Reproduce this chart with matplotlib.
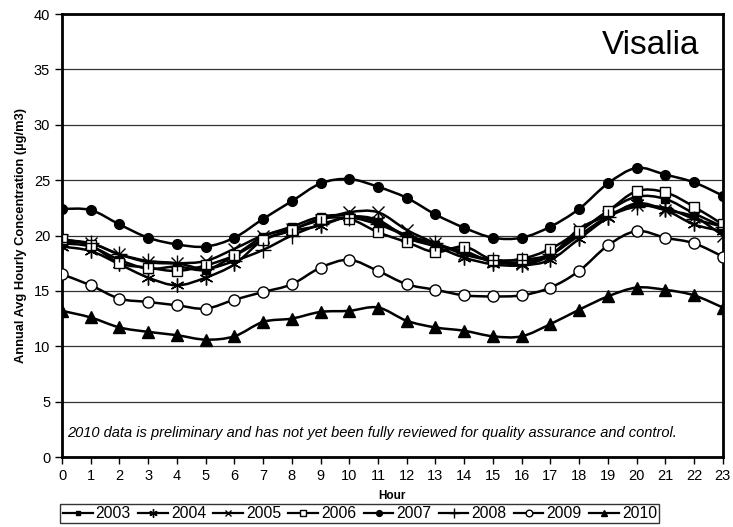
import numpy as np
import matplotlib
matplotlib.use('Agg')
import matplotlib.pyplot as plt
from matplotlib.path import Path
from matplotlib.patches import PathPatch
from matplotlib.lines import Line2D

hours = list(range(24))

y2003 = [19.3, 19.0, 17.8, 17.0, 17.2, 16.9, 18.2, 19.9, 20.8, 21.7, 21.8, 21.2,
         20.0, 19.1, 18.6, 17.6, 17.6, 18.2, 20.3, 22.2, 23.5, 23.3, 22.0, 20.8]
y2004 = [19.0, 18.6, 17.4, 16.2, 15.5, 16.2, 17.4, 19.6, 20.4, 20.9, 21.7, 21.4,
         19.8, 19.0, 18.0, 17.4, 17.3, 17.8, 19.7, 21.6, 22.9, 22.3, 21.0, 20.4]
y2005 = [19.6, 19.3, 18.3, 17.6, 17.5, 17.7, 18.8, 20.0, 20.6, 21.4, 22.1, 22.1,
         20.5, 19.3, 18.3, 17.7, 17.4, 18.2, 20.6, 21.8, 22.8, 22.3, 21.7, 20.0]
y2006 = [19.7, 19.1, 17.5, 17.1, 16.8, 17.3, 18.2, 19.6, 20.5, 21.5, 21.5, 20.3,
         19.4, 18.5, 19.0, 17.8, 17.9, 18.8, 20.4, 22.2, 24.0, 23.9, 22.6, 21.0]
y2007 = [22.4, 22.3, 21.0, 19.8, 19.2, 19.0, 19.8, 21.5, 23.1, 24.7, 25.1, 24.4,
         23.4, 21.9, 20.7, 19.8, 19.8, 20.8, 22.4, 24.7, 26.1, 25.5, 24.8, 23.6]
y2008 = [19.4, 19.3, 18.3, 17.7, 17.5, 17.0, 17.7, 18.7, 20.0, 21.0, 21.6, 21.0,
         20.0, 19.3, 18.4, 17.8, 17.8, 18.3, 20.0, 21.7, 22.6, 22.5, 21.5, 20.8]
y2009 = [16.5, 15.5, 14.3, 14.0, 13.7, 13.4, 14.2, 14.9, 15.6, 17.1, 17.8, 16.8,
         15.6, 15.1, 14.6, 14.5, 14.6, 15.3, 16.8, 19.1, 20.4, 19.8, 19.3, 18.1]
y2010 = [13.2, 12.6, 11.7, 11.3, 11.0, 10.6, 10.9, 12.2, 12.5, 13.1, 13.2, 13.5,
         12.3, 11.7, 11.4, 10.9, 10.9, 12.0, 13.3, 14.5, 15.3, 15.1, 14.6, 13.5]

series = [
    ('2003', y2003, dict(marker='s', mfc='black', ms=6)),
    ('2004', y2004, dict(marker=(6, 2, 0), mfc='none', ms=10, mew=1.0)),
    ('2005', y2005, dict(marker='x', mfc='none', ms=8, mew=1.0)),
    ('2006', y2006, dict(marker='s', mfc='white', ms=7, mew=1.0)),
    ('2007', y2007, dict(marker='o', mfc='black', ms=7)),
    ('2008', y2008, dict(marker='+', mfc='none', ms=12, mew=1.0)),
    ('2009', y2009, dict(marker='o', mfc='white', ms=8, mew=1.0)),
    ('2010', y2010, dict(marker='^', mfc='black', ms=8)),
]


def smooth_path(x, y):
    # excel style smoothed line: cubic bezier between points
    x = np.asarray(x, float)
    y = np.asarray(y, float)
    n = len(x)
    verts = [(x[0], y[0])]
    codes = [Path.MOVETO]
    for i in range(n - 1):
        p0 = np.array([x[max(i - 1, 0)], y[max(i - 1, 0)]])
        p1 = np.array([x[i], y[i]])
        p2 = np.array([x[i + 1], y[i + 1]])
        p3 = np.array([x[min(i + 2, n - 1)], y[min(i + 2, n - 1)]])
        c1 = p1 + (p2 - p0) / 6.0
        c2 = p2 - (p3 - p1) / 6.0
        verts += [tuple(c1), tuple(c2), tuple(p2)]
        codes += [Path.CURVE4] * 3
    return Path(verts, codes)


plt.rcParams['font.family'] = ['Liberation Sans', 'DejaVu Sans']

fig = plt.figure(figsize=(7.33, 5.27), dpi=100)
ax = fig.add_axes([0.0846, 0.1328, 0.9014, 0.8406])

handles = []
for name, vals, st in series:
    ax.add_patch(PathPatch(smooth_path(hours, vals), fill=False, ec='black', lw=1.8, zorder=3))
    ax.plot(hours, vals, linestyle='none', color='black', mec='black', zorder=4, **st)
    handles.append(Line2D([], [], color='black', lw=1.6, mec='black', **st))

ax.set_xlim(0, 23)
ax.set_ylim(0, 40)
ax.set_xticks(hours)
ax.set_yticks(range(0, 41, 5))
ax.yaxis.grid(True, color='#333333', lw=0.9)
ax.set_axisbelow(True)
for s in ax.spines.values():
    s.set_linewidth(2)
ax.tick_params(direction='out', length=5, width=1, labelsize=10.5, colors='black')

ax.set_xlabel('Hour', fontsize=8.5, fontweight='bold', labelpad=5)
ax.set_ylabel('Annual Avg Hourly Concentration (\u00b5g/m3)', fontsize=9.3, fontweight='bold', labelpad=5)

ax.text(0.965, 0.93, 'Visalia', transform=ax.transAxes, fontsize=24, ha='right', va='center')
ax.text(0.008, 0.055, '2010 data is preliminary and has not yet been fully reviewed for quality assurance and control.',
        transform=ax.transAxes, fontsize=10.5, style='italic', va='center')

fig.legend(handles, [s[0] for s in series], loc='center', bbox_to_anchor=(0.491, 0.0256), ncol=8,
           frameon=True, fancybox=False, edgecolor='black', fontsize=11.3, handlelength=1.9,
           handletextpad=0.2, columnspacing=0.45, borderpad=0.15, borderaxespad=0.0,
           markerscale=0.6)
fig.legends[0].get_frame().set_linewidth(1.0)

fig.savefig('out.png', dpi=100)
